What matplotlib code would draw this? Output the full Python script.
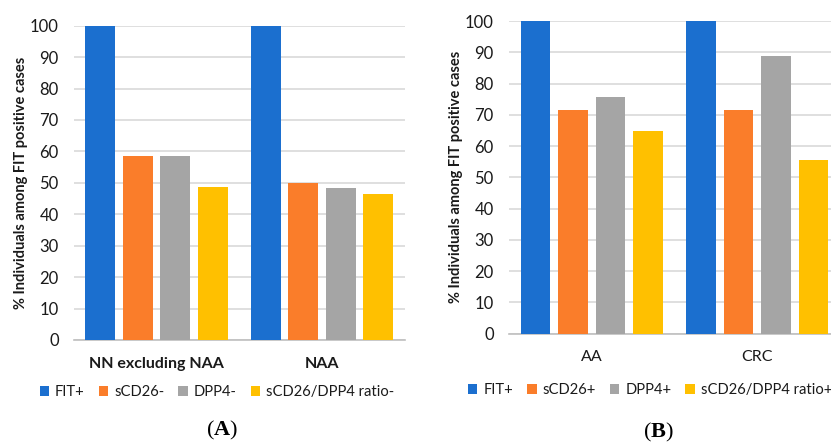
"""
Two-panel bar chart: % individuals among FIT positive cases, markers (A) negative, (B) positive.
"""

import matplotlib.pyplot as plt
import numpy as np
from matplotlib.patches import Patch

plt.rcParams["font.family"] = ["Lato", "DejaVu Sans"]
plt.rcParams["mathtext.fontset"] = "custom"
plt.rcParams["mathtext.rm"] = "Liberation Serif"
plt.rcParams["mathtext.bf"] = "Liberation Serif:bold"

# panel A
cats_a = ["NN excluding NAA", "NAA"]
series_a = ["FIT+", "sCD26-", "DPP4-", "sCD26/DPP4 ratio-"]
fit_a = [100, 100]
scd26_a = [58.6, 49.8]
dpp4_a = [58.6, 48.5]
ratio_a = [48.8, 46.4]

# panel B
cats_b = ["AA", "CRC"]
series_b = ["FIT+", "sCD26+", "DPP4+", "sCD26/DPP4 ratio+"]
fit_b = [100, 100]
scd26_b = [71.6, 71.4]
dpp4_b = [75.7, 88.8]
ratio_b = [64.9, 55.4]

yticks = list(range(0, 101, 10))
colors = ["#1B6FCF", "#FA7D2A", "#A5A5A5", "#FFC000"]
grid_color = "#D9D9D9"


def draw_panel(fig, rect, cats, series, values, cat_bold, legend_xy, caption, cap_xy):
    ax = fig.add_axes(rect)
    x = np.arange(len(cats))
    step = 0.2266
    width = 0.181
    for i, (vals, col) in enumerate(zip(values, colors)):
        ax.bar(x + (i - 1.5) * step, vals, width=width, color=col, zorder=3)
    ax.set_xlim(-0.5, len(cats) - 0.5)
    ax.set_ylim(0, 100)
    ax.set_yticks(yticks)
    ax.set_yticklabels([str(t) for t in yticks], fontsize=12, color="#1a1a1a")
    ax.yaxis.grid(True, color=grid_color, linewidth=1.2, zorder=0)
    ax.set_xticks(x)
    ax.set_xticklabels(cats, fontsize=11.5, color="#1a1a1a",
                       fontweight="bold" if cat_bold else "normal")
    ax.tick_params(axis="both", length=0)
    ax.tick_params(axis="y", pad=11)
    ax.tick_params(axis="x", pad=12)
    for side in ["top", "right", "left"]:
        ax.spines[side].set_visible(False)
    ax.spines["bottom"].set_color("#BFBFBF")
    ax.spines["bottom"].set_linewidth(1.2)
    ax.set_ylabel("% Individuals among FIT positive cases", fontsize=10.5,
                  fontweight="bold", color="#1a1a1a", labelpad=1)
    handles = [Patch(facecolor=c, edgecolor="none") for c in colors]
    ax.legend(handles, series, loc="center", bbox_to_anchor=legend_xy,
              ncol=4, frameon=False, fontsize=10.6, handlelength=0.65,
              handleheight=0.65, handletextpad=0.4, columnspacing=0.95,
              labelcolor="#1a1a1a")
    fig.text(cap_xy[0], cap_xy[1], r"$\mathrm{(}\mathbf{" + caption + r"}\mathrm{)}$",
             ha="center", va="center", fontsize=16)
    return ax


def main() -> None:
    fig = plt.figure(figsize=(8.31, 4.48), dpi=100)
    draw_panel(fig, [0.0890, 0.2411, 0.3983, 0.7016], cats_a, series_a,
               [fit_a, scd26_a, dpp4_a, ratio_a], True, (0.432, -0.166),
               "A", (0.267, 0.04))
    draw_panel(fig, [0.6125, 0.2551, 0.3983, 0.6980], cats_b, series_b,
               [fit_b, scd26_b, dpp4_b, ratio_b], False, (0.426, -0.18),
               "B", (0.792, 0.034))
    fig.savefig("out.png", dpi=100)
    plt.close(fig)


if __name__ == "__main__":
    main()
